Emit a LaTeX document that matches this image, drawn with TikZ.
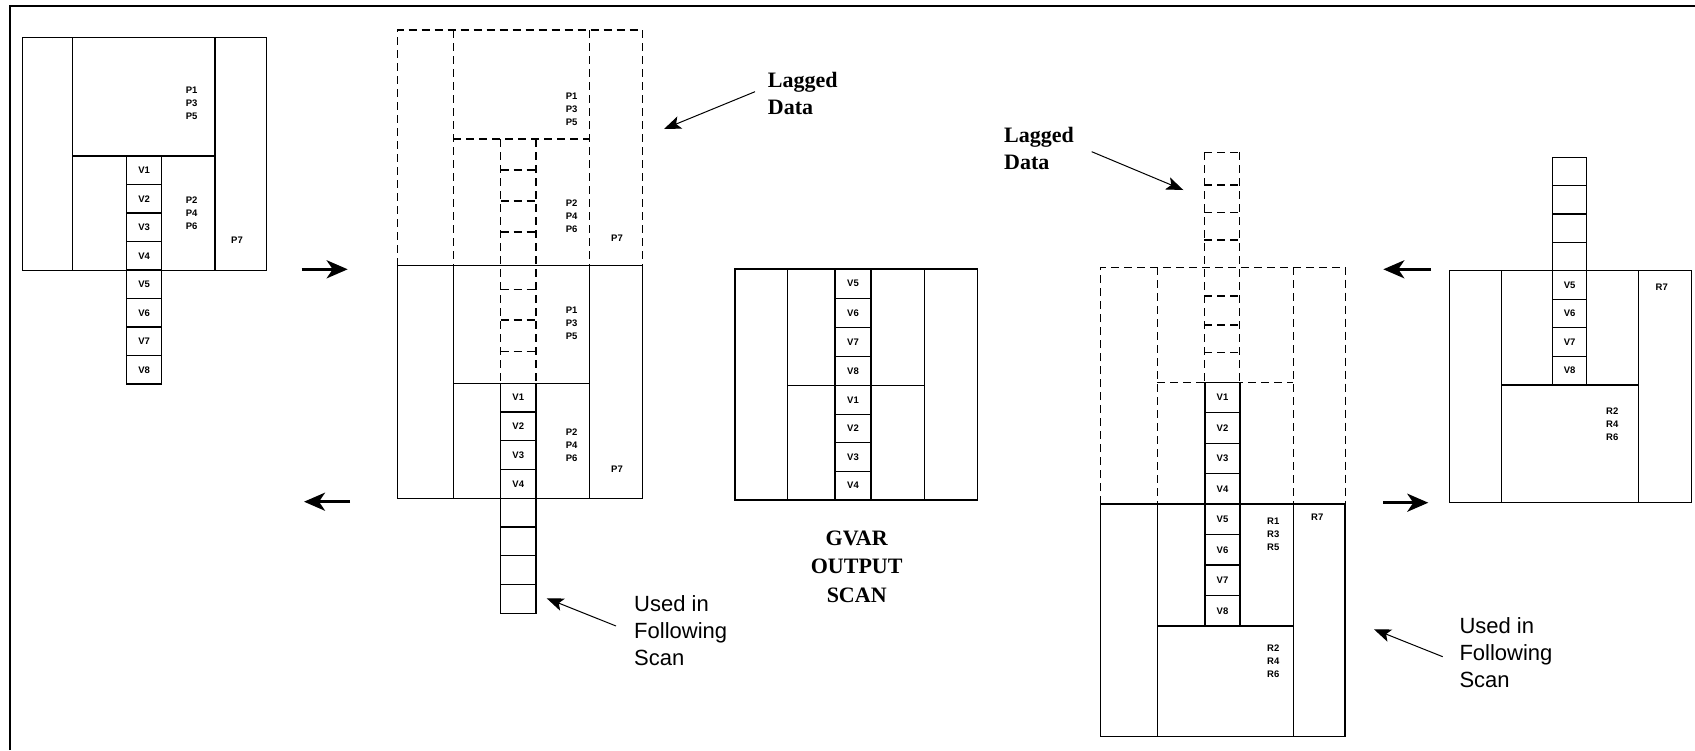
\documentclass[tikz,border=0pt]{standalone}
\usepackage{fontspec}
\setmainfont{Liberation Serif}
\setsansfont{Liberation Sans}
\usetikzlibrary{arrows.meta}
\begin{document}
\begin{tikzpicture}[x=1pt,y=-1pt,
  ln/.style={line width=1.2pt},
  dl/.style={line width=1.2pt, dash pattern=on 8pt off 5pt},
  lbl/.style={font=\sffamily\bfseries\fontsize{9.5}{13}\selectfont, inner sep=0pt, align=center},
  bigarrow/.style={line width=3pt, -{Stealth[length=21pt,width=18pt,inset=6pt]}},
  thinarrow/.style={line width=1pt, -{Stealth[length=17pt,width=13pt,inset=4pt]}},
  serifb/.style={font=\bfseries\fontsize{22}{27}\selectfont, inner sep=0pt, align=left},
  gvar/.style={font=\bfseries\fontsize{22}{28.5}\selectfont, inner sep=0pt, align=center},
  sanslbl/.style={font=\sffamily\fontsize{22}{27}\selectfont, inner sep=0pt, align=left}]
\useasboundingbox (0,0) rectangle (1695,750);
% frame
\draw[ln] (10,750) -- (10,6) -- (1695,6);

% ---------- Panel 1 ----------
\draw[ln] (22.7,37.7) rectangle (266.7,270.7);
\draw[ln] (72.7,37.7) -- (72.7,270.7) (215,37.7) -- (215,270.7) (72.7,156) -- (215,156);
\foreach \i in {1,...,8} {
  \draw[ln] (126.7,{156+28.5*(\i-1)}) rectangle (161.7,{156+28.5*\i});
  \node[lbl] (a-v\i) at (144.2,{156+28.5*\i-14.25}) {V\i};
}
\node[lbl] (a-p1) at (191.7,103.3) {P1\\P3\\P5};
\node[lbl] (a-p2) at (191.7,213) {P2\\P4\\P6};
\node[lbl] (a-p7) at (237,240) {P7};

% ---------- Panel 2 ----------
\draw[dl] (397.3,265.7) -- (397.3,30) -- (642.3,30) -- (642.3,265.7);
\draw[dl] (453.3,30) -- (453.3,265.7) (589.3,30) -- (589.3,265.7) (453.3,139) -- (589.3,139);
\draw[dl] (500.7,139) -- (500.7,383.3) (536,139) -- (536,383.3);
\foreach \y in {170,201,232,289.5,320,351.7} \draw[dl] (500.7,\y) -- (536,\y);
\draw[ln] (397.3,265.7) rectangle (642.3,498.3);
\draw[ln] (453.3,265.7) -- (453.3,498.3) (589.3,265.7) -- (589.3,498.3) (453.3,383.3) -- (589.3,383.3);
\foreach \i in {1,...,8} {
  \draw[ln] (500.7,{383.3+28.75*(\i-1)}) rectangle (536,{383.3+28.75*\i});
}
\foreach \i in {1,...,4} {
  \node[lbl] (b-v\i) at (518.3,{383.3+28.75*\i-14.4}) {V\i};
}
\node[lbl] (b-tp1) at (571.7,109.5) {P1\\P3\\P5};
\node[lbl] (b-tp2) at (571.7,216.3) {P2\\P4\\P6};
\node[lbl] (b-tp7) at (617,238.3) {P7};
\node[lbl] (b-p1) at (571.7,323) {P1\\P3\\P5};
\node[lbl] (b-p2) at (571.7,445) {P2\\P4\\P6};
\node[lbl] (b-p7) at (617,469.3) {P7};

% ---------- Panel 3 (GVAR) ----------
\draw[ln] (735,269) rectangle (977.3,500);
\draw[ln] (787.3,269) -- (787.3,500) (924.3,269) -- (924.3,500) (787.3,385.7) -- (924.3,385.7);
\foreach \i/\t in {1/5,2/6,3/7,4/8} {
  \draw[ln] (835,{269+29.175*(\i-1)}) rectangle (871,{269+29.175*\i});
  \node[lbl] (c-v\t) at (853,{269+29.175*\i-14.6}) {V\t};
}
\foreach \i in {1,...,4} {
  \draw[ln] (835,{385.7+28.575*(\i-1)}) rectangle (871,{385.7+28.575*\i});
  \node[lbl] (c-v\i) at (853,{385.7+28.575*\i-14.3}) {V\i};
}
\node[gvar] (gvar) at (856.7,566.6) {GVAR\\OUTPUT\\SCAN};

% ---------- Panel 4 ----------
\draw[dl] (1100.7,504) -- (1100.7,267.3) -- (1345.7,267.3) -- (1345.7,504);
\draw[dl] (1157.3,267.3) -- (1157.3,504) (1293.3,267.3) -- (1293.3,504) (1157.3,382.3) -- (1293.3,382.3);
\draw[dl] (1204.3,152.3) -- (1204.3,382.3) (1239.3,152.3) -- (1239.3,382.3) (1204.3,152.3) -- (1239.3,152.3);
\foreach \y in {185,212.3,240,296,325,352.7} \draw[dl] (1204.3,\y) -- (1239.3,\y);
\foreach \i in {1,...,4} {
  \draw[ln] (1205,{382.3+30.425*(\i-1)}) rectangle (1240,{382.3+30.425*\i});
  \node[lbl] (d-v\i) at (1222.5,{382.3+30.425*\i-15.2}) {V\i};
}
\draw[ln] (1100.7,504) rectangle (1345,736.7);
\draw[ln] (1157.3,504) -- (1157.3,736.7) (1293.3,504) -- (1293.3,736.7) (1157.3,626) -- (1293.3,626);
\foreach \i/\t in {1/5,2/6,3/7,4/8} {
  \draw[ln] (1205,{504+30.5*(\i-1)}) rectangle (1240,{504+30.5*\i});
  \node[lbl] (d-v\t) at (1222.5,{504+30.5*\i-15.25}) {V\t};
}
\node[lbl] (d-r1) at (1273.3,534.3) {R1\\R3\\R5};
\node[lbl] (d-r2) at (1273.3,661.5) {R2\\R4\\R6};
\node[lbl] (d-r7) at (1317.3,517.3) {R7};

% ---------- Panel 5 ----------
\foreach \i in {1,...,4} {
  \draw[ln] (1552.7,{157.3+28.35*(\i-1)}) rectangle (1586.7,{157.3+28.35*\i});
}
\draw[ln] (1449.3,270.7) rectangle (1691.7,502.7);
\draw[ln] (1501.7,270.7) -- (1501.7,502.7) (1638.3,270.7) -- (1638.3,502.7) (1501.7,385) -- (1638.3,385);
\foreach \i/\t in {1/5,2/6,3/7,4/8} {
  \draw[ln] (1552.7,{270.7+28.575*(\i-1)}) rectangle (1586.7,{270.7+28.575*\i});
  \node[lbl] (e-v\t) at (1569.7,{270.7+28.575*\i-14.3}) {V\t};
}
\node[lbl] (e-r7) at (1661.7,287.3) {R7};
\node[lbl] (e-r2) at (1612.3,424.7) {R2\\R4\\R6};

% ---------- big arrows ----------
\coordinate (ar1s) at (301.7,269.3); \coordinate (ar1e) at (347.7,269.3);
\coordinate (ar2s) at (350,501.7);   \coordinate (ar2e) at (304,501.7);
\coordinate (ar3s) at (1431,269.3);  \coordinate (ar3e) at (1383.3,269.3);
\coordinate (ar4s) at (1383.3,502.7);\coordinate (ar4e) at (1428.3,502.7);
\draw[bigarrow] (ar1s) -- (ar1e);
\draw[bigarrow] (ar2s) -- (ar2e);
\draw[bigarrow] (ar3s) -- (ar3e);
\draw[bigarrow] (ar4s) -- (ar4e);

% ---------- annotations ----------
\node[serifb, anchor=north west] (lag1) at (767.7,71.7) {Lagged\\Data};
\node[serifb, anchor=north west] (lag2) at (1004,127.3) {Lagged\\Data};
\node[sanslbl, anchor=north west] (use1) at (634,595) {Used in\\Following\\Scan};
\node[sanslbl, anchor=north west] (use2) at (1459.3,617) {Used in\\Following\\Scan};
\coordinate (l1s) at (755,91.7);    \coordinate (l1e) at (664,129);
\coordinate (l2s) at (1091.7,151.7);\coordinate (l2e) at (1183.3,190);
\coordinate (u1s) at (616,626);     \coordinate (u1e) at (546.7,598.3);
\coordinate (u2s) at (1442.7,656.7);\coordinate (u2e) at (1374,629.3);
\draw[thinarrow] (l1s) -- (l1e);
\draw[thinarrow] (l2s) -- (l2e);
\draw[thinarrow] (u1s) -- (u1e);
\draw[thinarrow] (u2s) -- (u2e);
\end{tikzpicture}
\end{document}
